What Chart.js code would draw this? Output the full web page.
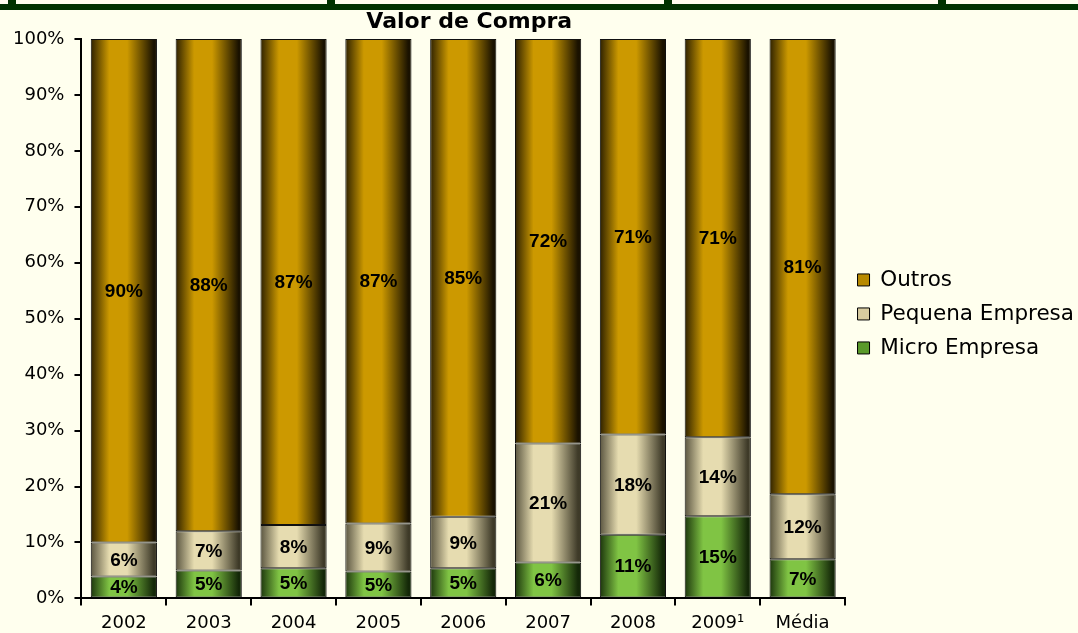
<!DOCTYPE html>
<html>
<head>
<meta charset="utf-8">
<script src="https://cdn.jsdelivr.net/npm/chart.js@4"></script>
<style>
  body { margin: 0; background: #FFFFEE; }
  #wrap { position: relative; width: 1078px; height: 633px; }
  .faixa { position: absolute; left: 0; top: 4px; width: 1078px; height: 6px; background: #003300; }
  .poste { position: absolute; top: 0; width: 8px; height: 10px; background: #003300; }
</style>
</head>
<body>
<div id="wrap">
  <canvas id="grafico" width="1078" height="633"></canvas>
  <div class="faixa"></div>
  <div class="poste" style="left:8px"></div>
  <div class="poste" style="left:327px"></div>
  <div class="poste" style="left:664px"></div>
  <div class="poste" style="left:938px"></div>
</div>
<script>
// dados (percentual do valor de compra)
var anos = ['2002', '2003', '2004', '2005', '2006', '2007', '2008', '2009¹', 'Média'];
var microEmpresa = [3.9, 5.0, 5.4, 4.8, 5.4, 6.4, 11.4, 14.7, 7.0];
var pequenaEmpresa = [6.1, 7.0, 7.7, 8.6, 9.2, 21.3, 17.9, 14.1, 11.6];
var outros = [90.0, 88.0, 86.9, 86.6, 85.4, 72.3, 70.7, 71.2, 81.4];
var ticksY = [0, 10, 20, 30, 40, 50, 60, 70, 80, 90, 100];

var categoria = 0.78;

// degrade horizontal tipo cilindro
function cilindro(cores) {
    return function (ctx) {
        var chart = ctx.chart;
        var area = chart.chartArea;
        var xs = chart.scales.x;
        if (!area || !xs) return cores[1];
        var x = xs.getPixelForValue(ctx.dataIndex);
        var meia = xs.width / anos.length * categoria / 2;
        var g = chart.ctx.createLinearGradient(x - meia, 0, x + meia, 0);
        g.addColorStop(0, cores[0]);
        g.addColorStop(0.28, cores[1]);
        g.addColorStop(0.55, cores[1]);
        g.addColorStop(0.95, cores[2]);
        g.addColorStop(1, cores[2]);
        return g;
    };
}

var rotulos = {
    id: 'rotulos',
    afterDatasetsDraw: function (chart) {
        var ctx = chart.ctx;
        ctx.save();
        ctx.font = 'bold 19px "Liberation Sans", Arial, sans-serif';
        ctx.fillStyle = '#000';
        ctx.textAlign = 'center';
        ctx.textBaseline = 'middle';
        chart.data.datasets.forEach(function (ds, i) {
            var meta = chart.getDatasetMeta(i);
            meta.data.forEach(function (bar, j) {
                var y = (bar.y + bar.base) / 2;
                ctx.fillText(Math.round(ds.data[j]) + '%', bar.x, y + 1);
            });
        });
        ctx.restore();
    }
};

var titulo = {
    id: 'titulo',
    afterDraw: function (chart) {
        var ctx = chart.ctx;
        var a = chart.chartArea;
        ctx.save();
        ctx.font = 'bold 22px "DejaVu Sans", sans-serif';
        ctx.fillStyle = '#000';
        ctx.textAlign = 'center';
        ctx.textBaseline = 'middle';
        ctx.fillText('Valor de Compra', (a.left + a.right) / 2 + 6, 22);
        ctx.restore();
    }
};

var fonteEixo = { family: '"DejaVu Sans", sans-serif', size: 18 };

new Chart(document.getElementById('grafico'), {
    type: 'bar',
    data: {
        labels: anos,
        datasets: [{
            label: 'Micro Empresa',
            data: microEmpresa,
            backgroundColor: cilindro(['#1c360c', '#80c444', '#142808'])
        }, {
            label: 'Pequena Empresa',
            data: pequenaEmpresa,
            backgroundColor: cilindro(['#5a5540', '#e6dcb0', '#3e3a28'])
        }, {
            label: 'Outros',
            data: outros,
            backgroundColor: cilindro(['#2e2100', '#cc9900', '#1a1200'])
        }]
    },
    options: {
        responsive: false,
        animation: false,
        categoryPercentage: categoria,
        barPercentage: 1,
        datasets: {
            bar: { borderWidth: 1, borderColor: '#111', borderSkipped: false }
        },
        layout: { padding: { top: 39, left: 3, right: -6, bottom: -8 } },
        scales: {
            x: {
                stacked: true,
                border: { display: true, color: '#000', width: 2 },
                grid: { display: true, drawOnChartArea: false, drawTicks: true, tickLength: 7, color: '#000', lineWidth: 2 },
                ticks: { color: '#000', font: fonteEixo, padding: 7, maxRotation: 0 }
            },
            y: {
                stacked: true,
                min: 0,
                max: 100,
                afterBuildTicks: function (axis) {
                    axis.ticks = ticksY.map(function (v) { return { value: v }; });
                },
                border: { display: true, color: '#000', width: 2 },
                grid: { display: true, drawOnChartArea: false, drawTicks: true, tickLength: 7, color: '#000', lineWidth: 2 },
                ticks: { color: '#000', font: fonteEixo, padding: 10, callback: function (v) { return v + '%'; } }
            }
        },
        plugins: {
            title: { display: false },
            tooltip: { enabled: false },
            legend: {
                position: 'right',
                align: 'start',
                reverse: true,
                title: { display: true, text: '', color: '#000', font: { size: 1 }, padding: { top: 216.5, bottom: 0 } },
                labels: {
                    color: '#000',
                    font: { family: '"DejaVu Sans", sans-serif', size: 21.5 },
                    boxWidth: 12,
                    boxHeight: 12,
                    padding: 12.5,
                    generateLabels: function (chart) {
                        var cores = ['#5a9a2a', '#d8cca0', '#b88a00'];
                        return chart.data.datasets.map(function (ds, i) {
                            return {
                                text: ds.label,
                                fillStyle: cores[i],
                                strokeStyle: '#000',
                                fontColor: '#000',
                                lineWidth: 1,
                                datasetIndex: i
                            };
                        });
                    }
                }
            }
        }
    },
    plugins: [rotulos, titulo]
});
</script>
</body>
</html>
